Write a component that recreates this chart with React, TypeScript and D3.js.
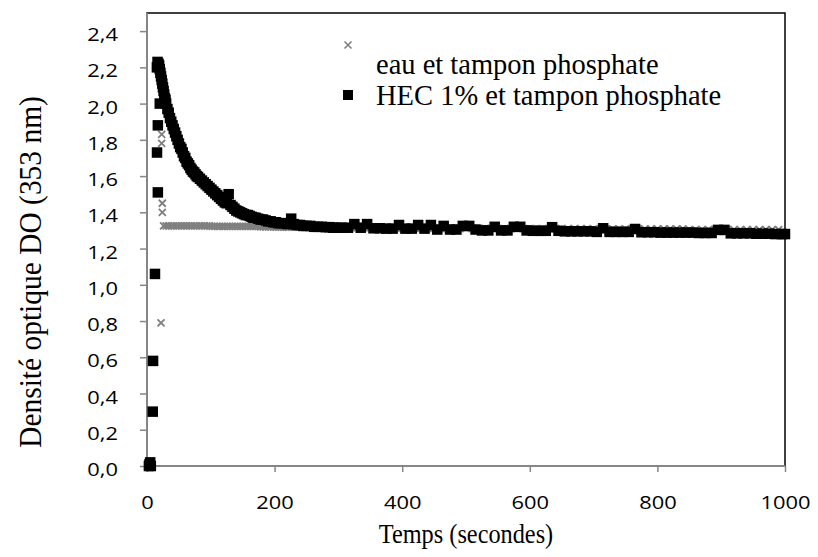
import { useEffect, useRef } from 'react';
import * as d3 from 'd3';

// x ticks (seconds) and y ticks (optical density)
const xTicks = [0, 200, 400, 600, 800, 1000];
const yTicks = [0, 0.2, 0.4, 0.6, 0.8, 1.0, 1.2, 1.4, 1.6, 1.8, 2.0, 2.2, 2.4];

const seriesNames = ['eau et tampon phosphate', 'HEC 1% et tampon phosphate'];

// series 1 : eau et tampon phosphate (grey crosses)
const eauTimes = [
  3, 4, 5, 22, 23, 23, 24, 24,
  26, 30, 34, 38, 42, 46, 50, 54, 58, 62, 66, 70, 74, 78, 82, 86, 90, 94, 98,
  102, 106, 110, 114, 118, 122, 126, 130, 134, 138, 142, 146, 150, 154, 158, 162, 166, 170, 174, 178,
  182, 186, 190, 194, 198, 202, 206, 210, 214, 218, 222, 226, 230, 234, 238, 242, 246, 250,
  260, 270, 280, 290, 300, 310, 320, 330, 340, 350, 360, 370, 380, 390, 400,
  410, 420, 430, 440, 450, 460, 470, 480, 490, 500, 510, 520, 530, 540, 550,
  560, 570, 580, 590, 600, 610, 620, 630, 640, 650, 660, 670, 680, 690, 700,
  710, 720, 730, 740, 750, 760, 770, 780, 790, 800, 810, 820, 830, 840, 850,
  860, 870, 880, 890, 900, 910, 920, 930, 940, 950, 960, 970, 980, 990, 1000,
];
const eauValues = [
  0.0, 0.01, 0.0, 0.79, 1.83, 1.78, 1.45, 1.4,
  1.325, 1.325, 1.325, 1.325, 1.325, 1.325, 1.325, 1.325, 1.325, 1.325, 1.325, 1.325, 1.325, 1.325, 1.325, 1.325, 1.325, 1.325, 1.325,
  1.322, 1.322, 1.322, 1.322, 1.322, 1.322, 1.322, 1.322, 1.322, 1.322, 1.322, 1.322, 1.322, 1.322, 1.322, 1.322, 1.322, 1.322, 1.322,
  1.32, 1.32, 1.32, 1.32, 1.32, 1.32, 1.318, 1.318, 1.318, 1.318, 1.318, 1.318, 1.318, 1.318, 1.318, 1.318, 1.318, 1.318,
  1.318, 1.318, 1.315, 1.315, 1.315, 1.315, 1.315, 1.315, 1.315, 1.315, 1.315, 1.315, 1.315, 1.315, 1.315,
  1.312, 1.312, 1.312, 1.312, 1.312, 1.312, 1.312, 1.312, 1.312, 1.312, 1.312, 1.312, 1.312, 1.312, 1.312,
  1.31, 1.31, 1.31, 1.31, 1.31, 1.31, 1.31, 1.31, 1.31, 1.31, 1.31, 1.31, 1.31, 1.31, 1.31,
  1.308, 1.308, 1.308, 1.308, 1.308, 1.308, 1.308, 1.308, 1.308, 1.308, 1.308, 1.308, 1.308, 1.308, 1.308,
  1.305, 1.305, 1.305, 1.305, 1.305, 1.305, 1.305, 1.305, 1.305, 1.305, 1.305, 1.305, 1.305, 1.305, 1.305,
];

// series 2 : HEC 1% et tampon phosphate (black squares)
const hecTimes = [
  3, 4, 5, 6, 9, 9.5, 12.5, 17, 15.7, 17, 20, 15.5, 16.5, 18,
  19, 20, 21, 22, 23, 24, 25, 26, 27, 28, 29, 30, 32, 34, 36, 38, 40, 42, 44, 46, 48, 50,
  52, 54, 56, 58, 60, 62, 64, 66, 68, 70, 72, 74, 76, 78, 80, 83, 86, 89, 92, 95, 98,
  101, 104, 107, 110, 113, 116, 119, 122, 125, 128, 131, 134, 137, 140, 143, 146, 149,
  152, 155, 158, 161, 164, 167, 170, 174, 178, 182, 186, 190, 194, 198, 202, 206, 210,
  215, 220, 226, 230, 235, 240, 245, 250, 256, 262, 268, 274, 280, 286, 292, 298,
  305, 315, 325, 335, 345, 355, 365, 375, 385, 395, 405, 415, 425, 435, 445, 455, 465, 475,
  485, 495, 505, 515, 525, 535, 545, 555, 565, 575, 585, 595, 605, 615, 625, 635, 645,
  655, 665, 675, 685, 695, 705, 715, 725, 735, 745, 755, 765, 775, 785, 795, 805, 815,
  825, 835, 845, 855, 865, 875, 885, 895, 905, 915, 925, 935, 945, 955, 965, 975, 985, 995, 1000,
];
const hecValues = [
  0.0, 0.01, 0.02, 0.0, 0.3, 0.58, 1.06, 1.51, 1.73, 1.88, 2.0, 2.2, 2.23, 2.22,
  2.21, 2.19, 2.17, 2.15, 2.13, 2.11, 2.09, 2.07, 2.05, 2.03, 2.02, 2.0, 1.97, 1.95, 1.92, 1.9, 1.88, 1.86, 1.84, 1.82, 1.8, 1.78,
  1.76, 1.75, 1.73, 1.71, 1.7, 1.68, 1.67, 1.66, 1.645, 1.635, 1.625, 1.62, 1.61, 1.6, 1.595, 1.585, 1.575, 1.565, 1.555, 1.545, 1.535,
  1.525, 1.515, 1.505, 1.495, 1.485, 1.475, 1.465, 1.455, 1.45, 1.5, 1.44, 1.43, 1.42, 1.41, 1.405, 1.4, 1.395,
  1.39, 1.385, 1.385, 1.38, 1.375, 1.37, 1.37, 1.365, 1.36, 1.36, 1.355, 1.35, 1.35, 1.345, 1.345, 1.34, 1.34,
  1.34, 1.335, 1.365, 1.335, 1.33, 1.33, 1.325, 1.325, 1.325, 1.32, 1.32, 1.32, 1.318, 1.318, 1.315, 1.315,
  1.315, 1.315, 1.335, 1.315, 1.335, 1.312, 1.312, 1.31, 1.31, 1.33, 1.31, 1.31, 1.33, 1.31, 1.33, 1.305, 1.325, 1.305,
  1.305, 1.325, 1.325, 1.305, 1.3, 1.3, 1.32, 1.3, 1.3, 1.32, 1.32, 1.3, 1.298, 1.298, 1.298, 1.318, 1.298,
  1.295, 1.295, 1.295, 1.295, 1.295, 1.292, 1.312, 1.292, 1.292, 1.292, 1.292, 1.308, 1.29, 1.29, 1.29, 1.288, 1.288,
  1.288, 1.288, 1.288, 1.288, 1.286, 1.286, 1.286, 1.303, 1.303, 1.284, 1.284, 1.284, 1.284, 1.282, 1.282, 1.282, 1.28, 1.28, 1.28,
];

const W = 818;
const H = 557;

export default function App() {
  const svgRef = useRef<SVGSVGElement>(null);

  useEffect(() => {
    if (!svgRef.current) return;
    const svg = d3.select(svgRef.current);
    svg.selectAll('*').remove();

    const plot = { left: 147, right: 785, top: 13, bottom: 466 };
    const x = d3.scaleLinear().domain([0, 1000]).range([plot.left, plot.right]);
    const y = d3.scaleLinear().domain([0, 2.5]).range([plot.bottom, plot.top]);

    const grey = '#868686';
    const sansFont = "'Open Sans', sans-serif";
    const serifFont = "'Liberation Serif', serif";

    // stretch / squeeze text along its baseline, the figure's fonts are not the usual widths
    const widen = (sel: d3.Selection<any, any, any, any>, k: number) => {
      sel.each(function () {
        const el = this as SVGTextElement;
        const len = el.getComputedTextLength();
        d3.select(el).attr('textLength', len * k).attr('lengthAdjust', 'spacingAndGlyphs');
      });
    };

    svg.append('rect')
      .attr('width', W)
      .attr('height', H)
      .attr('fill', '#ffffff');

    // plot area frame
    svg.append('rect')
      .attr('x', plot.left)
      .attr('y', plot.top)
      .attr('width', plot.right - plot.left)
      .attr('height', plot.bottom - plot.top)
      .attr('fill', 'none')
      .attr('stroke', '#000000')
      .attr('stroke-width', 1.5);

    // y axis
    const yAxis = svg.append('g')
      .attr('transform', `translate(${plot.left},0)`)
      .call(
        d3.axisLeft(y)
          .tickValues(yTicks)
          .tickSize(7)
          .tickPadding(22)
          .tickFormat((d) => (d as number).toFixed(1).replace('.', ','))
      );
    yAxis.select('.domain').remove();
    yAxis.selectAll('line').attr('stroke', grey).attr('stroke-width', 1.5);
    const yLabels = yAxis.selectAll('text')
      .attr('fill', '#000')
      .attr('dy', '0.5em')
      .style('font-family', sansFont)
      .style('font-size', '19px');
    widen(yLabels, 1.15);

    // x axis
    const xAxis = svg.append('g')
      .attr('transform', `translate(0,${plot.bottom})`)
      .call(
        d3.axisBottom(x)
          .tickValues(xTicks)
          .tickSize(6)
          .tickPadding(24)
          .tickFormat(d3.format('d'))
      );
    xAxis.select('.domain').remove();
    xAxis.selectAll('line').attr('stroke', grey).attr('stroke-width', 1.5);
    const xLabels = xAxis.selectAll('text')
      .attr('fill', '#000')
      .style('font-family', sansFont)
      .style('font-size', '19px');
    widen(xLabels, 1.15);

    // axis lines
    svg.append('line')
      .attr('x1', plot.left).attr('x2', plot.left)
      .attr('y1', plot.top).attr('y2', plot.bottom)
      .attr('stroke', grey).attr('stroke-width', 2);
    svg.append('line')
      .attr('x1', plot.left).attr('x2', plot.right)
      .attr('y1', plot.bottom).attr('y2', plot.bottom)
      .attr('stroke', grey).attr('stroke-width', 2);

    const crossPath = (s: number) => `M${-s},${-s}L${s},${s}M${-s},${s}L${s},${-s}`;

    // series 1 crosses
    const eau = eauTimes.map((t, i) => [t, eauValues[i]]);
    svg.append('g')
      .selectAll('path')
      .data(eau)
      .join('path')
      .attr('transform', (d) => `translate(${x(d[0])},${y(d[1])})`)
      .attr('d', crossPath(3.5))
      .attr('stroke', '#7f7f7f')
      .attr('stroke-width', 1.8)
      .attr('fill', 'none');

    // series 2 squares
    const hec = hecTimes.map((t, i) => [t, hecValues[i]]);
    const sq = 10.5;
    svg.append('g')
      .selectAll('rect')
      .data(hec)
      .join('rect')
      .attr('x', (d) => x(d[0]) - sq / 2)
      .attr('y', (d) => y(d[1]) - sq / 2)
      .attr('width', sq)
      .attr('height', sq)
      .attr('fill', '#000000');

    // legend
    const legend = svg.append('g');
    legend.append('path')
      .attr('transform', 'translate(348,45)')
      .attr('d', crossPath(3.5))
      .attr('stroke', '#7f7f7f')
      .attr('stroke-width', 1.6)
      .attr('fill', 'none');
    legend.append('rect')
      .attr('x', 343)
      .attr('y', 90)
      .attr('width', 10)
      .attr('height', 10)
      .attr('fill', '#000');
    const legendText = legend.selectAll('text')
      .data(seriesNames)
      .join('text')
      .attr('x', 376)
      .attr('y', (_, i) => 74 + i * 31)
      .attr('font-family', serifFont)
      .attr('font-size', 30)
      .attr('fill', '#000')
      .text((d) => d);
    widen(legendText, 0.95);

    // axis titles
    const xTitle = svg.append('text')
      .attr('x', (plot.left + plot.right) / 2)
      .attr('y', 543)
      .attr('text-anchor', 'middle')
      .attr('font-family', serifFont)
      .attr('font-size', 27)
      .attr('fill', '#000')
      .text('Temps (secondes)');
    widen(xTitle, 0.9);

    const yTitle = svg.append('text')
      .attr('transform', 'translate(41,272) rotate(-90)')
      .attr('text-anchor', 'middle')
      .attr('font-family', serifFont)
      .attr('font-size', 31)
      .attr('fill', '#000')
      .text('Densité optique DO (353 nm)');
    widen(yTitle, 0.95);
  }, []);

  return (
    <svg
      ref={svgRef}
      width={W}
      height={H}
      style={{ display: 'block', margin: '-8px 0 0 -8px' }}
    />
  );
}
